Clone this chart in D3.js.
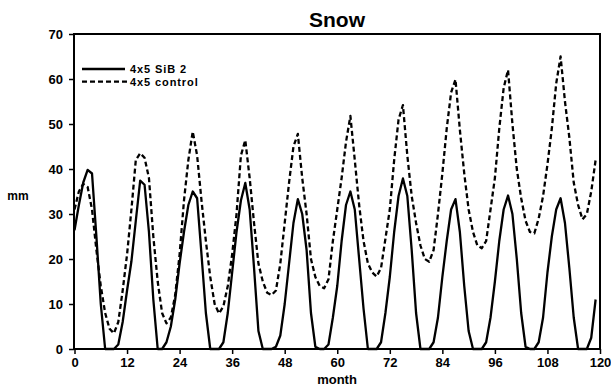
<!DOCTYPE html>
<html>
<head>
<meta charset="utf-8">
<script src="https://cdn.jsdelivr.net/npm/d3@7"></script>
<style>
  html, body { margin: 0; padding: 0; background: #fff; }
  svg { display: block; }
  text { font-family: "Liberation Sans", Arial, Helvetica, sans-serif; font-weight: bold; fill: #000; }
</style>
</head>
<body>
<svg id="chart" width="611" height="387"></svg>
<script>
// Monthly snow depth (mm), months 0..119
const months = d3.range(0, 120);

const sib2 = [
  26.4, 32, 37, 39.8, 39, 25, 10, 0, 0, 0, 1, 6,
  13, 19.5, 28.5, 37.4, 36.5, 26, 11, 0, 0, 1.5, 5, 11,
  19, 26, 32, 35, 33.5, 21, 8, 0, 0, 0, 1.5, 8,
  17, 26, 33, 36.9, 31, 18, 4, 0, 0, 0, 0.5, 3,
  10, 19, 28, 33.3, 30, 22, 8, 0.5, 0, 0, 1, 7,
  14, 24, 32, 35, 31, 20, 9, 0, 0, 0, 1.5, 8,
  16, 26, 34, 37.9, 34, 22, 8, 0, 0, 0, 1.5, 7,
  16, 24, 31, 33.3, 26, 14, 4, 0, 0, 0, 1.5, 7,
  15, 24, 31, 34.1, 30, 20, 8, 0.5, 0, 0, 1.5, 7,
  17, 25, 31, 33.5, 28, 18, 7, 0, 0, 0, 2.5, 11
];

const control = [
  31, 35, 36.7, 36, 31, 22, 14, 8, 4.5, 3.5, 6, 13,
  21, 31, 42, 43.5, 42.5, 38, 25, 15, 8, 5.7, 7, 12,
  21, 33, 42, 48.3, 43, 33, 24, 16, 10, 7.9, 9.5, 14,
  21, 30, 43, 46.4, 38, 28, 19, 15, 12.5, 12, 13, 19,
  28, 37, 45, 47.8, 38, 30, 20, 16, 14, 13.5, 15.5, 24,
  31, 38, 46, 51.8, 42, 32, 24, 19, 17, 16.1, 18, 24.5,
  31, 42, 51, 54.2, 43, 34, 28, 23, 20, 19.4, 22, 30,
  39, 49, 57, 59.9, 48.7, 39, 31, 26, 23, 22.4, 24, 31,
  38, 49, 58, 62, 50, 40, 33.5, 28.5, 26, 25.7, 29, 34,
  41, 49, 59, 65, 55, 47, 37, 32, 28.8, 30, 35, 42
];

const xTicks = [0, 12, 24, 36, 48, 60, 72, 84, 96, 108, 120];
const yTicks = [0, 10, 20, 30, 40, 50, 60, 70];

const seriesNames = ["4x5 SiB 2", "4x5 control"];
const seriesDash = [null, "5,3"];

const chartTitle = "Snow";
const xTitle = "month";
const yTitle = "mm";

const margin = { left: 74, right: 11, top: 34, bottom: 38 };
const W = 611, H = 387;
const svg = d3.select("#chart");

const x = d3.scaleLinear().domain([0, 120]).range([margin.left + 0.5, W - margin.right]);
const y = d3.scaleLinear().domain([0, 70]).range([H - margin.bottom, margin.top]);

// Axes
const yAxis = d3.axisLeft(y).tickValues(yTicks).tickSize(5).tickPadding(6);
const xAxis = d3.axisBottom(x).tickValues(xTicks).tickSize(5).tickPadding(4);

const gy = svg.append("g").attr("transform", `translate(${margin.left},0)`).call(yAxis);
const gx = svg.append("g").attr("transform", `translate(0,${H - margin.bottom})`).call(xAxis);
[gx, gy].forEach(g => {
  g.select(".domain").remove();
  g.selectAll(".tick line").attr("stroke", "#000").attr("stroke-width", 1.5);
  g.selectAll(".tick text").style("font-size", "13px").style("font-family", "'Liberation Sans', Arial, sans-serif").style("font-weight", "bold");
});

// Plot frame
svg.append("rect")
  .attr("x", margin.left)
  .attr("y", margin.top)
  .attr("width", W - margin.right - margin.left)
  .attr("height", H - margin.bottom - margin.top)
  .attr("fill", "none")
  .attr("stroke", "#000")
  .attr("stroke-width", 2);

// Series lines
const line = d3.line().x((d, i) => x(months[i])).y(d => y(d));
[sib2, control].forEach((vals, k) => {
  svg.append("path")
    .datum(vals)
    .attr("d", line)
    .attr("fill", "none")
    .attr("stroke", "#000")
    .attr("stroke-width", 2.3)
    .attr("stroke-linejoin", "round")
    .attr("stroke-dasharray", seriesDash[k]);
});

// Legend
const legend = svg.append("g");
seriesNames.forEach((name, k) => {
  const ly = 69 + k * 12.7;
  legend.append("line")
    .attr("x1", 82).attr("x2", k === 0 ? 125 : 127)
    .attr("y1", ly).attr("y2", ly)
    .attr("stroke", "#000").attr("stroke-width", 2.3)
    .attr("stroke-dasharray", seriesDash[k]);
  legend.append("text")
    .attr("x", 130).attr("y", ly + 4)
    .style("font-size", "11px")
    .style("letter-spacing", "0.9px")
    .text(name);
});

// Titles
svg.append("text")
  .attr("x", (margin.left + W - margin.right) / 2)
  .attr("y", 27)
  .attr("text-anchor", "middle")
  .style("font-size", "21px")
  .text(chartTitle);

svg.append("text")
  .attr("x", (margin.left + W - margin.right) / 2)
  .attr("y", 384)
  .attr("text-anchor", "middle")
  .style("font-size", "13px")
  .text(xTitle);

svg.append("text")
  .attr("x", 18)
  .attr("y", 200)
  .attr("text-anchor", "middle")
  .style("font-size", "12px")
  .text(yTitle);
</script>
</body>
</html>
